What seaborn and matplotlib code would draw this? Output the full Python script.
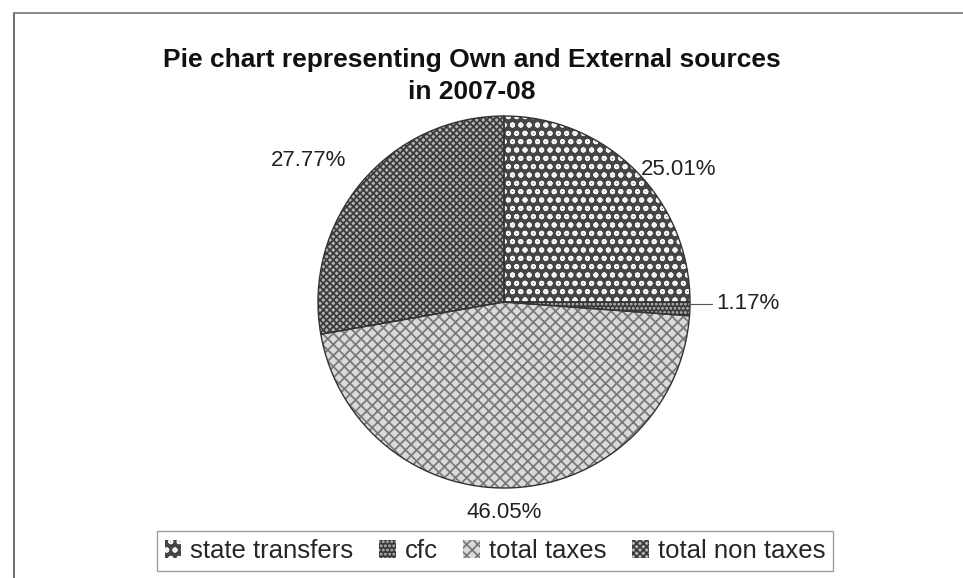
import matplotlib
matplotlib.use("Agg")
import matplotlib.pyplot as plt
import seaborn as sns
from matplotlib.patches import Patch
from matplotlib.lines import Line2D

sns.set_theme(style="white")
plt.rcParams['font.family'] = ['Liberation Sans', 'DejaVu Sans']
plt.rcParams['hatch.linewidth'] = 1.3

categories = ["state transfers", "cfc", "total taxes", "total non taxes"]
shares = [25.01, 1.17, 46.05, 27.77]
pct_labels = ["25.01%", "1.17%", "46.05%", "27.77%"]

faces = ["#454545", "#3a3a3a", "#dadada", "#b4b4b4"]
hatch_cols = ["#f4f4f4", "#bdbdbd", "#7a7a7a", "#3c3c3c"]
hatches = ["oo", "....", "xxx", "xxxxx"]

W, H = 963, 578
fig = plt.figure(figsize=(W / 100, H / 100), dpi=100)
fig.patch.set_facecolor("white")

# outer chart frame
fig.add_artist(Line2D([14 / W, 14 / W], [0, 1 - 13 / H], color="#555555", lw=1.2))
fig.add_artist(Line2D([14 / W, 1], [1 - 13 / H, 1 - 13 / H], color="#777777", lw=1.2))

cx, cy, r = 504, 302, 186
ax = fig.add_axes([(cx - r) / W, (H - cy - r) / H, 2 * r / W, 2 * r / H])

wedges, _ = ax.pie(shares, startangle=90, counterclock=False, radius=1,
                   colors=faces, wedgeprops=dict(linewidth=0))
for w, hc, h in zip(wedges, hatch_cols, hatches):
    w.set_hatch(h)
    w.set_edgecolor(hc)
    w.set_linewidth(0)
ax.pie(shares, startangle=90, counterclock=False, radius=1,
       wedgeprops=dict(linewidth=1.0, edgecolor="#333333", fill=False))
ax.set_xlim(-1, 1)
ax.set_ylim(-1, 1)
ax.set_aspect("equal")
ax.axis("off")

label_pos = [(0.94, 0.71), (1.31, -0.01), (0.0, -1.13), (-1.05, 0.76)]
for (x, y), t in zip(label_pos, pct_labels):
    ax.text(x, y, t, ha="center", va="center", fontsize=16, color="#222222", clip_on=False)
ax.add_line(Line2D([1.0, 1.12], [-0.01, -0.01], color="#555555", lw=0.8, clip_on=False))

fig.text(472 / W, 1 - 60 / H, "Pie chart representing Own and External sources",
         ha="center", va="center", fontsize=19, fontweight="bold", color="#111111")
fig.text(472 / W, 1 - 92 / H, "in 2007-08",
         ha="center", va="center", fontsize=19, fontweight="bold", color="#111111")

handles = [Patch(facecolor=f, edgecolor=hc, hatch=h, linewidth=0)
           for f, hc, h in zip(faces, hatch_cols, hatches)]
leg = fig.legend(handles, categories, loc="center", bbox_to_anchor=(495 / W, 1 - 551 / H),
                 ncol=4, frameon=True, fontsize=18.5, handlelength=0.65, handleheight=0.65,
                 handletextpad=0.35, columnspacing=1.0, borderpad=0.3, fancybox=False)
leg.get_frame().set_edgecolor("#888888")
leg.get_frame().set_linewidth(1.0)

fig.savefig("out.png", dpi=100)
